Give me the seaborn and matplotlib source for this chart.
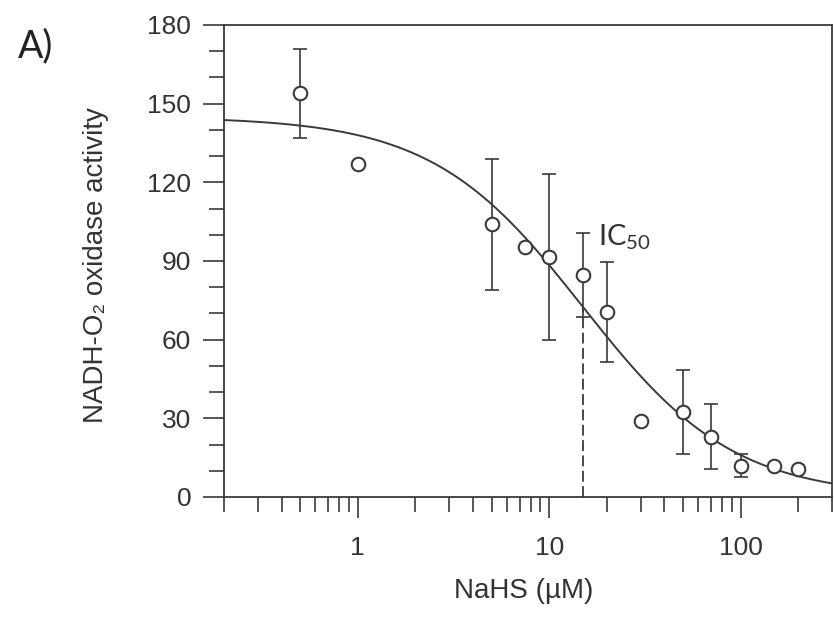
import numpy as np
import pandas as pd
import matplotlib
matplotlib.use("Agg")
import matplotlib.pyplot as plt
import seaborn as sns
from matplotlib.ticker import FixedLocator, FixedFormatter, NullFormatter

# ---- data ----
conc = [0.5, 1, 5, 7.5, 10, 15, 20, 30, 50, 70, 100, 150, 200]
activity = [154, 127, 104, 95.5, 91.5, 84.5, 70.5, 29, 32.5, 23, 12, 12, 10.5]
err = [17, 0, 25, 0, 31.5, 16, 19, 0, 16, 12.5, 4.3, 0, 0]

# fitted dose-response (Hill) parameters
fit_top = 145.0
fit_ic50 = 15.0
fit_hill = 1.1

x_limits = [0.2, 300]
y_limits = [0, 180]
x_ticks = [1, 10, 100]
x_ticklabels = ["1", "10", "100"]
x_minor = [0.2, 0.3, 0.4, 0.5, 0.6, 0.7, 0.8, 0.9,
           2, 3, 4, 5, 6, 7, 8, 9,
           20, 30, 40, 50, 60, 70, 80, 90, 200, 300]
y_ticks = [0, 30, 60, 90, 120, 150, 180]
y_minor = [10, 20, 40, 50, 70, 80, 100, 110, 130, 140, 160, 170]

df = pd.DataFrame({"conc": conc, "activity": activity, "err": err})

sns.set_theme(style="ticks")
plt.rcParams["font.family"] = ["Liberation Sans", "DejaVu Sans"]
plt.rcParams["mathtext.default"] = "regular"

dark = "#3a3a3a"

fig = plt.figure(figsize=(8.34, 6.21), dpi=100)
ax = fig.add_axes([224 / 834, 124 / 621, 608 / 834, 472 / 621])

# fitted curve
xs = np.logspace(np.log10(x_limits[0]), np.log10(x_limits[1]), 400)
ys = fit_top / (1 + (xs / fit_ic50) ** fit_hill)
sns.lineplot(x=xs, y=ys, ax=ax, color=dark, linewidth=1.4, zorder=3)

# IC50 dashed marker
ax.vlines(fit_ic50, 0, fit_top / 2, colors=dark, linewidth=1.3,
          linestyles=(0, (6, 2.5)), zorder=2)

# error bars
e = df[df["err"] > 0]
ax.errorbar(e["conc"], e["activity"], yerr=e["err"], fmt="none",
            ecolor=dark, elinewidth=1.2, capsize=4.7, capthick=1.2, zorder=4)

# open circle markers
sns.scatterplot(data=df, x="conc", y="activity", ax=ax, marker="o", s=95,
                color="white", edgecolor=dark, linewidth=1.5, zorder=5,
                legend=False)

ax.set_xscale("log")
ax.set_xlim(*x_limits)
ax.set_ylim(*y_limits)
ax.xaxis.set_major_locator(FixedLocator(x_ticks))
ax.xaxis.set_major_formatter(FixedFormatter(x_ticklabels))
ax.xaxis.set_minor_locator(FixedLocator(x_minor))
ax.xaxis.set_minor_formatter(NullFormatter())
ax.yaxis.set_major_locator(FixedLocator(y_ticks))
ax.yaxis.set_minor_locator(FixedLocator(y_minor))

ax.tick_params(axis="both", which="major", length=15, width=1.2,
               direction="out", labelsize=19, color=dark, labelcolor="#333333")
ax.tick_params(axis="both", which="minor", length=10.5, width=1.2,
               direction="out", color=dark)
ax.tick_params(axis="x", which="major", pad=13)
ax.tick_params(axis="y", which="major", pad=8.6)

for sp in ax.spines.values():
    sp.set_color(dark)
    sp.set_linewidth(1.3)

ax.set_xlabel("NaHS (µM)", fontsize=20, color="#333333")
ax.set_ylabel("NADH-O₂ oxidase activity", fontsize=20, color="#333333")
ax.xaxis.set_label_coords(0.493, -0.199)
ax.xaxis.label.set_va("center")
ax.yaxis.set_label_coords(-0.2105, 0.4915)
ax.yaxis.label.set_va("center")

ax.text(18, 96, "IC$_{50}$", fontsize=21, family=["Lato", "DejaVu Sans"],
        color="#333333", ha="left", va="baseline", zorder=6)

fig.text(36 / 834, 1 - 46 / 621, "A)", fontsize=27, family=["Lato", "DejaVu Sans"],
         color="#222222", ha="center", va="center")

fig.savefig("out.png", dpi=100)
